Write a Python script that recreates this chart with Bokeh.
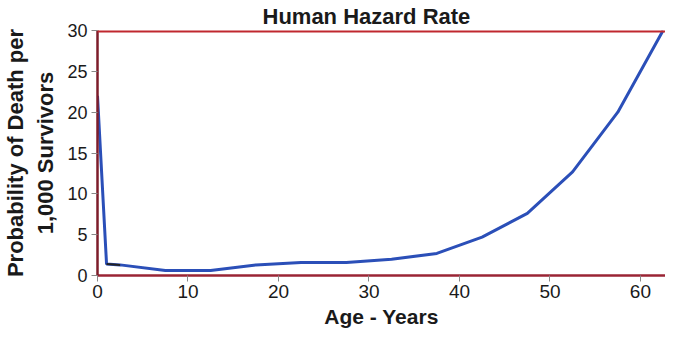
from bokeh.plotting import figure
from bokeh.models import Range1d, FixedTicker, Span, Title
from bokeh.embed import file_html
from bokeh.resources import INLINE

title_text = "Human Hazard Rate"
x_label = "Age - Years"
y_label = "Probability of Death per\n1,000 Survivors"

ages = [0, 1, 2.5, 7.5, 12.5, 17.5, 22.5, 27.5, 32.5, 37.5, 42.5, 47.5, 52.5, 57.5, 62.5]
hazard = [22, 1.4, 1.3, 0.6, 0.6, 1.3, 1.6, 1.6, 2.0, 2.7, 4.7, 7.6, 12.7, 20, 30]
x_ticks = [0, 10, 20, 30, 40, 50, 60]
y_ticks = [0, 5, 10, 15, 20, 25, 30]

FONT = "Liberation Sans"
TXT = "#1a1a1a"

p = figure(width=665, height=330, output_backend="svg", toolbar_location=None,
           x_range=Range1d(0, 62.77), y_range=Range1d(0, 30),
           min_border_left=89, min_border_right=0, min_border_top=0, min_border_bottom=0)
p.title = Title(text=title_text, align="left", offset=165, text_font=FONT,
                text_font_size="22px", text_font_style="bold", text_color=TXT, standoff=3)
p.outline_line_color = None
p.grid.visible = False
p.background_fill_color = "white"
p.border_fill_color = "white"

# top frame line
p.add_layout(Span(location=30, dimension="width", line_color="#c0282f", line_width=4))

p.line(ages, hazard, line_color="#2b4fb8", line_width=3)
p.line(ages[1:3], hazard[1:3], line_color="#222222", line_width=2)

for ax in (p.xaxis[0], p.yaxis[0]):
    ax.major_label_text_font = FONT
    ax.major_label_text_color = TXT
    ax.axis_label_text_font = FONT
    ax.axis_label_text_font_style = "bold"
    ax.axis_label_text_color = TXT
    ax.major_tick_in = 0
    ax.major_tick_out = 6
    ax.major_tick_line_color = "#888888"
    ax.minor_tick_line_color = None
    ax.axis_line_width = 2.5

p.xaxis.ticker = FixedTicker(ticks=x_ticks)
p.yaxis.ticker = FixedTicker(ticks=y_ticks)
p.xaxis.axis_label = x_label
p.yaxis.axis_label = y_label
p.xaxis.major_label_text_font_size = "19px"
p.yaxis.major_label_text_font_size = "18px"
p.xaxis.axis_label_text_font_size = "21px"
p.yaxis.axis_label_text_font_size = "22px"
p.xaxis.axis_line_color = "#9a2434"
p.yaxis.axis_line_color = "#7d1d2a"
p.xaxis.major_label_standoff = 3
p.yaxis.major_label_standoff = 4
p.xaxis.axis_label_standoff = 4
p.yaxis.axis_label_standoff = 6

open("out.html", "w").write(file_html(p, INLINE))
